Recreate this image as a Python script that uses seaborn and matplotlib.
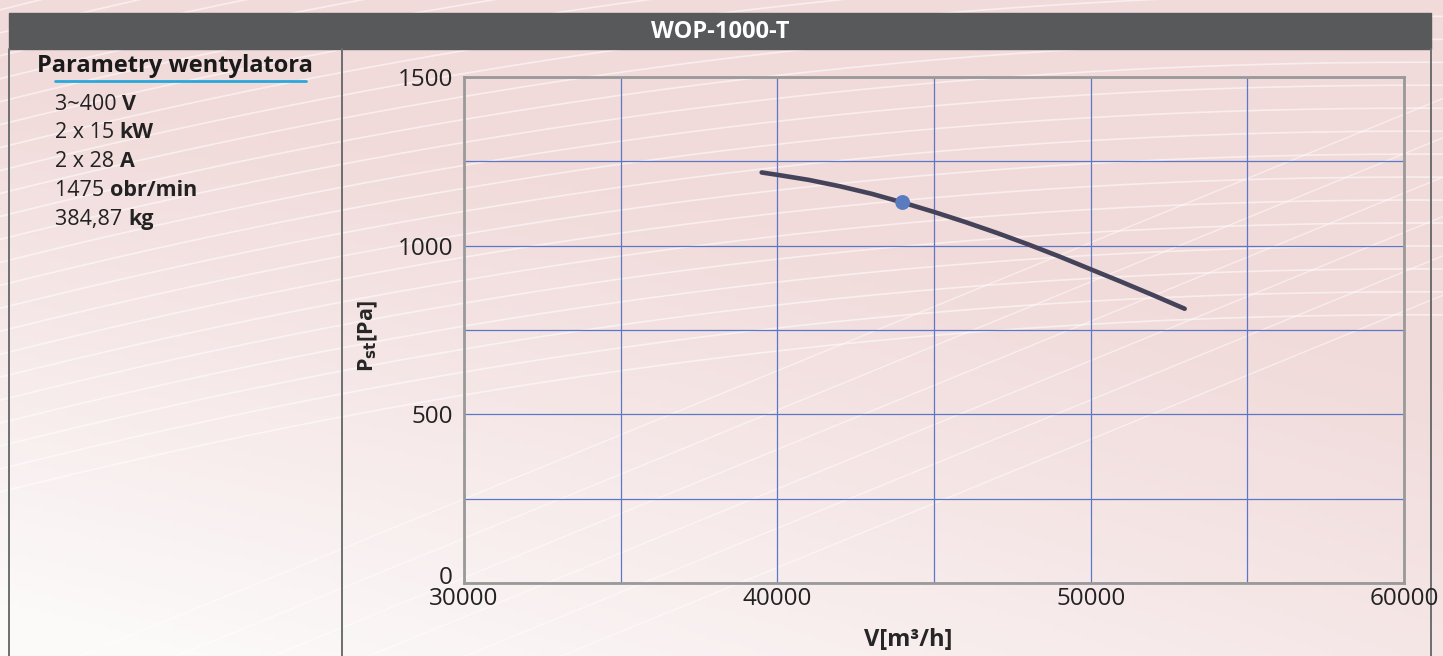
import numpy as np
import matplotlib.pyplot as plt
import matplotlib.transforms as mtransforms
import seaborn as sns
import pandas as pd

# Fan curve
flow = [39500, 40000, 41000, 42000, 43000, 44000, 45000, 46000, 47000, 48000, 49000, 50000, 51000, 52000, 53000]
pressure = [1217, 1210, 1195, 1176, 1154, 1128, 1100, 1070, 1038, 1004, 968, 930, 892, 853, 813]
work_flow = [44000]
work_pressure = [1128]

model = 'WOP-1000-T'
params_title = 'Parametry wentylatora'
params_values = ['3~400', '2 x 15', '2 x 28', '1475', '384,87']
params_units = ['V', 'kW', 'A', 'obr/min', 'kg']

x_ticks = [30000, 40000, 50000, 60000]
y_ticks = [0, 500, 1000, 1500]

sns.set_style('white')
plt.rcParams['font.family'] = ['Open Sans', 'DejaVu Sans']

fig = plt.figure(figsize=(14.43, 6.56), dpi=100)

# Decorative background: pink gradient with white streaks
bg = fig.add_axes([0, 0, 1, 1], zorder=-10)
gx, gy = np.meshgrid(np.linspace(0, 1, 300), np.linspace(0, 1, 150))
t = np.clip(0.25 + 0.9 * gy + 0.35 * gx - 0.35 * (1 - gx) * (1 - gy), 0, 1)
pink = np.array([241, 218, 218]) / 255
white = np.array([252, 249, 249]) / 255
img = white[None, None, :] * (1 - t[..., None]) + pink[None, None, :] * t[..., None]
bg.imshow(img, origin='lower', extent=[0, 1, 0, 1], aspect='auto')
xs = np.linspace(0, 1, 200)
for k in range(22):
    y0 = 0.25 + k * 0.035
    bg.plot(xs, y0 + 0.55 * xs - 0.28 * xs ** 2, color='white', lw=1.2, alpha=0.55)
for k in range(6):
    y0 = -0.35 + k * 0.06
    bg.plot(xs, y0 + 0.9 * xs, color='white', lw=1.0, alpha=0.5)
bg.set_xlim(0, 1)
bg.set_ylim(0, 1)
bg.axis('off')

# Frame: header bar, panel borders, fan parameters
frame = fig.add_axes([0, 0, 1, 1], zorder=-5)
frame.set_xlim(0, 1443)
frame.set_ylim(656, 0)
frame.axis('off')
frame.add_patch(plt.Rectangle((9, 13), 1422, 36, color='#58595b'))
frame.text(720, 32, model, color='white', fontsize=17, fontweight='bold', ha='center', va='center')
for xv in [9, 342, 1431]:
    frame.plot([xv, xv], [49, 656], color='#6d6e70', lw=1.4)
frame.text(175, 66, params_title, fontsize=17, fontweight='bold', ha='center', va='center', color='#1a1a1a')
frame.plot([55, 306], [81, 81], color='#29a8dc', lw=2)

renderer = fig.canvas.get_renderer()
for i, (v, u) in enumerate(zip(params_values, params_units)):
    yy = 104 + i * 28.8
    t1 = frame.text(55, yy, v + ' ', fontsize=15.5, ha='left', va='center', color='#222222')
    w = t1.get_window_extent(renderer=renderer).width
    tr = mtransforms.offset_copy(frame.transData, fig=fig, x=w, y=0, units='dots')
    frame.text(55, yy, u, transform=tr, fontsize=15.5, fontweight='bold',
               ha='left', va='center', color='#222222')

# Chart axes
ax = fig.add_axes([464 / 1443, 73 / 656, 940 / 1443, 506 / 656])
ax.patch.set_alpha(0)
df = pd.DataFrame({'V': flow, 'P': pressure})
sns.lineplot(data=df, x='V', y='P', ax=ax, color='#45435a', lw=3.3, zorder=3)
sns.scatterplot(x=work_flow, y=work_pressure, ax=ax, color='#5b7bc0', s=115, edgecolor='none', zorder=4)

ax.set_xlim(30000, 60000)
ax.set_ylim(0, 1500)
xgrid = np.arange(30000, 60001, 5000)
ygrid = np.arange(0, 1501, 250)
ax.set_xticks(xgrid)
ax.set_yticks(ygrid)
ax.grid(True, color='#5b78c8', lw=0.9)
ax.set_xticklabels([str(v) if v in x_ticks else '' for v in xgrid])
ax.set_yticklabels([str(v) if v in y_ticks else '' for v in ygrid])
ax.tick_params(axis='both', length=0, labelsize=17.5, colors='#222222')
ax.tick_params(axis='x', pad=3)
ax.tick_params(axis='y', pad=8)
# lift the "0" label off the x axis like in the source
zero_lbl = ax.get_yticklabels()[0]
zero_lbl.set_transform(zero_lbl.get_transform() + mtransforms.ScaledTranslation(0, 8 / 100, fig.dpi_scale_trans))
for s in ax.spines.values():
    s.set_color('#999999')
    s.set_linewidth(2)
ax.set_xlabel('V[m³/h]', fontsize=17, fontweight='bold')
ax.xaxis.set_label_coords((908 - 464) / 940, -(640 - 583) / 506)
ax.xaxis.label.set_va('center')
ax.set_ylabel('P$_{\\mathbf{st}}$[Pa]', fontsize=15.5, fontweight='bold')
ax.yaxis.set_label_coords((368 - 464) / 940, (583 - 336) / 506)
ax.yaxis.label.set_va('center')

fig.savefig('out.png', dpi=100)
